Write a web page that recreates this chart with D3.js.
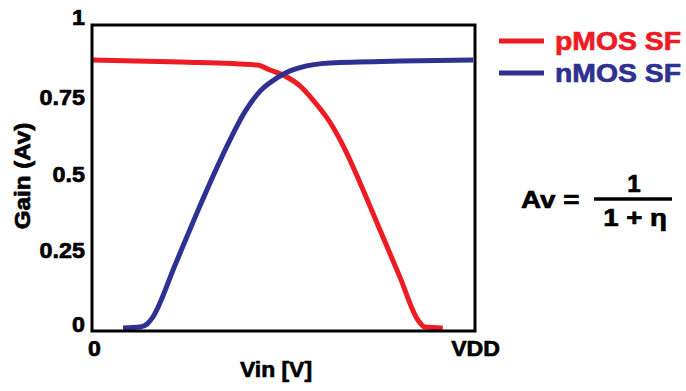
<!DOCTYPE html>
<html>
<head>
<meta charset="utf-8">
<script src="https://cdn.jsdelivr.net/npm/d3@7"></script>
<style>
    body { margin: 0; background: #fff; }
    text { font-family: "Liberation Sans", Arial, Helvetica, sans-serif; font-weight: bold; }
</style>
</head>
<body>
<div class="canvas"></div>
<script>
// values (Vin as a fraction of VDD)
const xTicks = [0, 1]
const xTickLabels = ["0", "VDD"]
const yTicks = [0, 0.25, 0.5, 0.75, 1]
const yTickLabels = ["0", "0.25", "0.5", "0.75", "1"]

const pmosVin  = [0, 0.23, 0.431, 0.465, 0.509, 0.543, 0.577, 0.621, 0.661, 0.700, 0.752, 0.804, 0.851, 0.869, 0.916]
const pmosGain = [0.886, 0.879, 0.869, 0.853, 0.830, 0.801, 0.755, 0.683, 0.592, 0.484, 0.330, 0.176, 0.036, 0.013, 0.010]

const nmosVin  = [0.081, 0.125, 0.144, 0.157, 0.217, 0.274, 0.321, 0.360, 0.399, 0.439, 0.483, 0.517, 0.543, 0.621, 0.804, 0.995]
const nmosGain = [0.010, 0.013, 0.023, 0.042, 0.216, 0.386, 0.520, 0.624, 0.716, 0.784, 0.827, 0.850, 0.861, 0.876, 0.882, 0.886]

const seriesNames  = ["pMOS SF", "nMOS SF"]
const seriesColors = ["#ed1c24", "#2e3192"]

const width = 686
const height = 391
const box = { left: 92, right: 475, top: 25, bottom: 331 }

const svg = d3.select(".canvas")
    .append("svg")
    .attr("width", width)
    .attr("height", height)

const x = d3.scaleLinear().domain([0, 1]).range([box.left, box.right])
const y = d3.scaleLinear().domain([0, 1]).range([box.bottom, box.top])

// the reference type is wider and heavier than Arial bold
function heavy(sel, k, color) {
    sel.attr("stroke", color || "#000")
        .attr("stroke-width", 0.7)
        .attr("stroke-linejoin", "round")
        .each(function() {
            const len = this.getComputedTextLength()
            d3.select(this).attr("textLength", len * k).attr("lengthAdjust", "spacingAndGlyphs")
        })
}

// curves
const series = [
    d3.zip(pmosVin, pmosGain),
    d3.zip(nmosVin, nmosGain)
]

const line = d3.line()
    .x(d => x(d[0]))
    .y(d => y(d[1]))
    .curve(d3.curveMonotoneX)

svg.selectAll("path.curve")
    .data(series)
    .enter()
    .append("path")
    .attr("class", "curve")
    .attr("fill", "none")
    .attr("stroke", (d, i) => seriesColors[i])
    .attr("stroke-width", 5)
    .attr("stroke-linejoin", "round")
    .attr("d", line)

// frame
svg.append("rect")
    .attr("x", box.left)
    .attr("y", box.top)
    .attr("width", box.right - box.left)
    .attr("height", box.bottom - box.top)
    .attr("fill", "none")
    .attr("stroke", "#000")
    .attr("stroke-width", 3)

// y axis
const yAxis = svg.append("g")
    .attr("transform", `translate(${box.left},0)`)
    .call(d3.axisLeft(y).tickValues(yTicks).tickSize(0).tickPadding(7)
        .tickFormat((d, i) => yTickLabels[i]))
yAxis.select(".domain").remove()
yAxis.selectAll("text")
    .attr("fill", "#000")
    .attr("font-size", 22)
    .attr("dy", null)
    .attr("y", d => d == 1 ? -1 : d == 0 ? 0 : 3)
    .call(heavy, 1.06)

// x axis
const xAxis = svg.append("g")
    .attr("transform", `translate(0,${box.bottom})`)
    .call(d3.axisBottom(x).tickValues(xTicks).tickSize(0)
        .tickFormat((d, i) => xTickLabels[i]))
xAxis.select(".domain").remove()
xAxis.selectAll("text")
    .attr("fill", "#000")
    .attr("font-size", 22)
    .attr("dy", null)
    .attr("y", 25)
    .attr("x", d => d == 0 ? 2 : 0)
    .call(heavy, 1.05)

// axis titles
svg.append("text")
    .attr("x", 276)
    .attr("y", 377)
    .attr("text-anchor", "middle")
    .attr("font-size", 22)
    .text("Vin [V]")
    .call(heavy, 1.04)

svg.append("text")
    .attr("transform", "translate(30,176) rotate(-90)")
    .attr("text-anchor", "middle")
    .attr("font-size", 22)
    .text("Gain (Av)")
    .call(heavy, 1.1)

// legend
const legend = svg.selectAll("g.legend")
    .data(seriesNames)
    .enter()
    .append("g")
    .attr("class", "legend")
    .attr("transform", (d, i) => `translate(499,${41 + i * 32})`)

legend.append("line")
    .attr("x1", 0)
    .attr("x2", 45)
    .attr("stroke", (d, i) => seriesColors[i])
    .attr("stroke-width", 5)

legend.append("text")
    .attr("x", 56)
    .attr("y", 9)
    .attr("font-size", 26)
    .attr("fill", (d, i) => seriesColors[i])
    .text(d => d)
    .each(function(d, i) { d3.select(this).call(heavy, 1.09, seriesColors[i]) })

// formula
const formula = svg.append("g")

formula.append("text")
    .attr("x", 521)
    .attr("y", 208)
    .attr("font-size", 24)
    .text("Av =")
    .call(heavy, 1.16)

formula.append("line")
    .attr("x1", 594)
    .attr("x2", 672)
    .attr("y1", 199)
    .attr("y2", 199)
    .attr("stroke", "#000")
    .attr("stroke-width", 3.5)

formula.append("text")
    .attr("x", 634)
    .attr("y", 192)
    .attr("text-anchor", "middle")
    .attr("font-size", 23)
    .text("1")
    .call(heavy, 1.05)

formula.append("text")
    .attr("x", 635)
    .attr("y", 226)
    .attr("text-anchor", "middle")
    .attr("font-size", 23)
    .text("1 + η")
    .call(heavy, 1.2)
</script>
</body>
</html>
